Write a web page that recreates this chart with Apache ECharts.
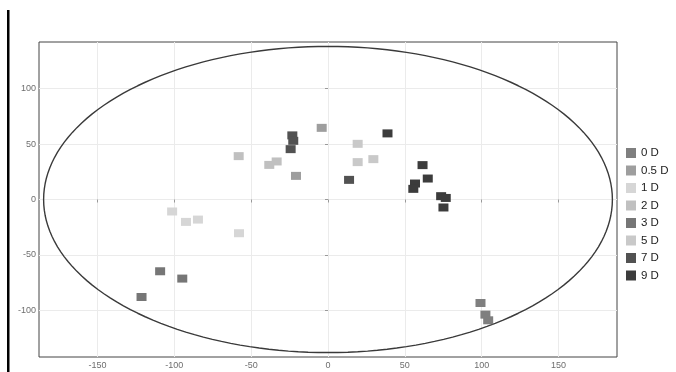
<!DOCTYPE html>
<html>
<head>
<meta charset="utf-8">
<script src="https://cdn.jsdelivr.net/npm/echarts@6/dist/echarts.min.js"></script>
<style>
  html, body { margin: 0; padding: 0; background: #fff; }
  #plot { width: 676px; height: 372px; }
</style>
</head>
<body>
<div id="plot"></div>
<script>
// groups and colours
var groups = ['0 D', '0.5 D', '1 D', '2 D', '3 D', '5 D', '7 D', '9 D'];
var colors = ['#7f7f7f', '#9e9e9e', '#d6d6d6', '#c0c0c0', '#767676', '#c9c9c9', '#525252', '#3c3c3c'];

// points, one list per group
var pts0 = [[99.2, -93.3], [102.4, -103.8], [104.2, -108.9]];
var pts05 = [[-4.1, 64.6], [-20.8, 21.3]];
var pts1 = [[-101.4, -10.8], [-92.4, -20.2], [-84.6, -18.1], [-57.9, -30.4]];
var pts2 = [[-58.1, 39.1], [-38.2, 31.2], [-33.4, 34.3]];
var pts3 = [[-109.2, -64.7], [-94.8, -71.3], [-121.3, -87.9]];
var pts5 = [[19.3, 50.2], [19.3, 33.7], [29.5, 36.4]];
var pts7 = [[-23.2, 57.8], [-22.6, 52.9], [-24.3, 45.4], [13.7, 17.7]];
var pts9 = [[38.7, 59.6], [61.5, 31], [64.9, 18.9], [56.6, 14.4], [55.5, 9.6], [73.6, 3], [76.6, 1.4], [75.1, -7.2]];
var groupPoints = [pts0, pts05, pts1, pts2, pts3, pts5, pts7, pts9];

// confidence ellipse
var ellipseCenter = [0, 0];
var ellipseRadius = [185, 138];

// axis ticks
var xTicks = [-150, -100, -50, 0, 50, 100, 150];
var yTicks = [-100, -50, 0, 50, 100];

var ellipse = [];
for (var i = 0; i <= 360; i += 2) {
  var t = i * Math.PI / 180;
  ellipse.push([ellipseCenter[0] + ellipseRadius[0] * Math.cos(t),
                ellipseCenter[1] + ellipseRadius[1] * Math.sin(t)]);
}

var myChart = echarts.init(document.getElementById('plot'));

var series = groups.map(function (g, k) {
  return {
    name: g,
    type: 'scatter',
    symbol: 'rect',
    symbolSize: [10, 8],
    itemStyle: { color: colors[k], opacity: 1 },
    data: groupPoints[k],
    z: 3
  };
});
series.push({
  name: 'ellipse',
  type: 'line',
  data: ellipse,
  showSymbol: false,
  symbol: 'none',
  silent: true,
  lineStyle: { color: '#3a3a3a', width: 1.4 },
  z: 2
});

var axisLabelStyle = { color: '#6e6e6e', fontSize: 9, fontFamily: 'Liberation Sans' };

var option = {
  animation: false,
  grid: { left: 39, top: 42, right: 59, bottom: 15, show: true, borderColor: '#444', borderWidth: 1 },
  xAxis: {
    type: 'value', min: -188, max: 188,
    axisLine: { show: false },
    axisTick: { show: true, length: 3, lineStyle: { color: '#999' }, customValues: xTicks },
    axisLabel: Object.assign({ customValues: xTicks, margin: 4 }, axisLabelStyle),
    splitLine: { show: true, lineStyle: { color: '#ebebeb', width: 1 } }
  },
  yAxis: {
    type: 'value', min: -142, max: 142,
    axisLine: { show: false },
    axisTick: { show: true, length: 3, lineStyle: { color: '#999' }, customValues: yTicks },
    axisLabel: Object.assign({ customValues: yTicks, margin: 3 }, axisLabelStyle),
    splitLine: { show: true, lineStyle: { color: '#ebebeb', width: 1 } }
  },
  legend: {
    data: groups,
    orient: 'vertical',
    left: 621,
    top: 142,
    itemWidth: 10,
    itemHeight: 10,
    itemGap: 5.5,
    icon: 'rect',
    textStyle: { fontSize: 11.5, color: '#222', fontFamily: 'Liberation Sans', padding: [0, 0, 0, 0] }
  },
  graphic: [{
    type: 'rect',
    shape: { x: 7, y: 10, width: 2.5, height: 362 },
    style: { fill: '#000' }
  }],
  series: series
};

myChart.setOption(option);
</script>
</body>
</html>
